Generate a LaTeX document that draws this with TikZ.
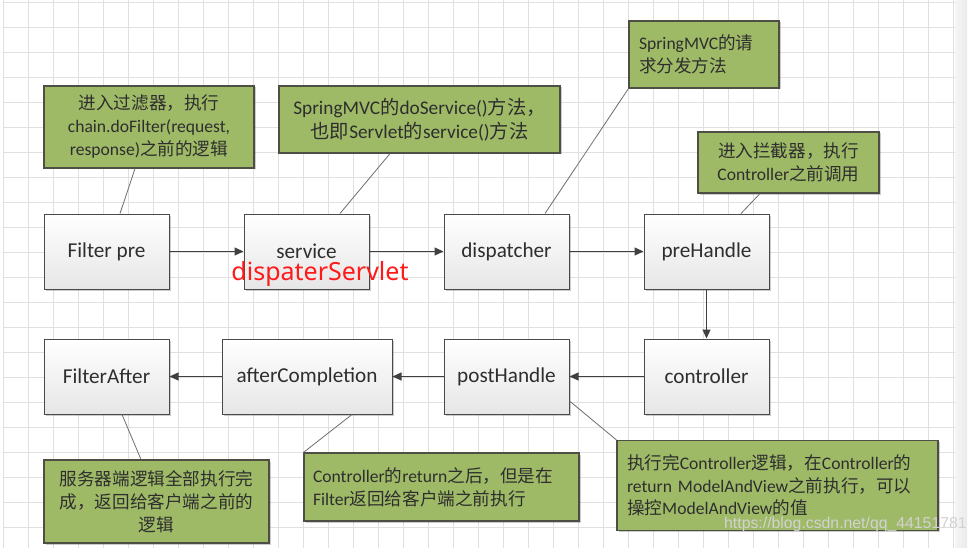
\documentclass[tikz,border=0pt]{standalone}
\usepackage{fontspec}
\setmainfont{Carlito}
\newfontfamily\cjk{Noto Sans CJK SC}
\newfontfamily\notosans{Noto Sans}
\newfontfamily\wmfont{Liberation Sans}
\usetikzlibrary{arrows.meta,shadows}
\definecolor{gridc}{HTML}{E0E0E0}
\definecolor{boxborder}{HTML}{4A4A4A}
\definecolor{boxbottom}{HTML}{E6E6E6}
\definecolor{textdark}{HTML}{2E2E2E}
\definecolor{notegreen}{HTML}{9FBA67}
\definecolor{noteborder}{HTML}{4E4E44}
\definecolor{arrowgray}{HTML}{404040}
\definecolor{linkgray}{HTML}{6E6E6E}
\definecolor{redlbl}{HTML}{FF1A1A}
\definecolor{wmc}{HTML}{D2D2D2}
\begin{document}
\begin{tikzpicture}[x=1pt,y=-1pt,
  box/.style={draw=boxborder, line width=1pt, top color=white, bottom color=boxbottom,
    minimum width=125pt, minimum height=75pt, inner sep=0pt,
    font=\fontsize{21.2}{24}\selectfont, text=textdark,
    drop shadow={shadow xshift=1.5pt, shadow yshift=-1.5pt, fill=black, opacity=0.2}},
  note/.style={draw=noteborder, line width=1.1pt, fill=notegreen, inner sep=0pt,
    font=\fontsize{17.6}{23}\selectfont, text=textdark,
    drop shadow={shadow xshift=1.5pt, shadow yshift=-1.5pt, fill=black, opacity=0.2}},
  flow/.style={draw=arrowgray, line width=1.1pt, -{Triangle[length=9pt,width=8pt]}},
  link/.style={draw=linkgray, line width=0.8pt},
  gridline/.style={draw=gridc, line width=1pt}]
\useasboundingbox (0,0) rectangle (976,548);
\fill[white] (0,0) rectangle (976,548);
% side strip
\shade[left color=black!4, right color=black!8] (955,0) rectangle (967,548);
% grid
\foreach \gx in {0,...,38} { \draw[gridline] ({3.5+25*\gx},0) -- ({3.5+25*\gx},548); }
\foreach \gy in {0,...,21} { \draw[gridline] (3.5,{2.5+25*\gy}) -- (955,{2.5+25*\gy}); }

% process boxes
\node[box] (fpre) at (106.5,251.5) {Filter pre};
\node[box] (serv) at (306.5,251.5) {service};
\node[box] (disp) at (506.5,251.5) {dispatcher};
\node[box] (preh) at (706.5,251.5) {preHandle};
\node[box] (fafter) at (106.5,376.5) {FilterAfter};
\node[box, minimum width=170pt] (afterc) at (307,376.5) {afterCompletion};
\node[box] (posth) at (506.5,376.5) {postHandle};
\node[box] (ctrl) at (706.5,376.5) {controller};

% flow arrows
\draw[flow] (fpre) -- (serv);
\draw[flow] (serv) -- (disp);
\draw[flow] (disp) -- (preh);
\draw[flow] (preh) -- (ctrl);
\draw[flow] (ctrl) -- (posth);
\draw[flow] (posth) -- (afterc);
\draw[flow] (afterc) -- (fafter);

% notes
\node[note, minimum width=210pt, minimum height=82pt, text width=200pt, align=center] (n1) at (149,127)
  {{\cjk 进入过滤器，执行}\\chain.doFilter(request,\\response){\cjk 之前的逻辑}};
\node[note, minimum width=281pt, minimum height=67pt, text width=270pt, align=center,
  font=\fontsize{19.3}{24}\selectfont] (n2) at (419.5,119.5)
  {SpringMVC{\cjk 的}doService(){\cjk 方法，}\\ {\cjk 也即}Servlet{\cjk 的}service(){\cjk 方法}};
\node[note, minimum width=150pt, minimum height=67pt, text width=130pt, align=left] (n3) at (704,54.5)
  {SpringMVC{\cjk 的请}\\{\cjk 求分发方法}};
\node[note, minimum width=181pt, minimum height=61pt, text width=170pt, align=center] (n4) at (788.5,162.5)
  {{\cjk 进入拦截器，执行}\\Controller{\cjk 之前调用}};
\node[note, minimum width=225pt, minimum height=83pt, text width=215pt, align=center] (n5) at (156.5,501.5)
  {{\cjk 服务器端逻辑全部执行完}\\{\cjk 成，返回给客户端之前的}\\{\cjk 逻辑}};
\node[note, minimum width=275pt, minimum height=68pt, text width=257pt, align=left] (n6) at (441.5,487)
  {Controller{\cjk 的}return{\cjk 之后，但是在}\\Filter{\cjk 返回给客户端之前执行}};
\node[note, minimum width=321pt, minimum height=90pt, text width=301pt, align=left,
  font=\fontsize{17.6}{22.5}\selectfont] (n7) at (777.5,485.5)
  {{\cjk 执行完}Controller{\cjk 逻辑，在}Controller{\cjk 的}\\return ModelAndView{\cjk 之前执行，可以}\\{\cjk 操控}ModelAndView{\cjk 的值}};

% note links
\draw[link] ([xshift=-14pt]n1.south) -- ([xshift=13.5pt]fpre.north);
\draw[link] ([xshift=-29.5pt]n2.south) -- ([xshift=33.5pt]serv.north);
\draw[link] (n3.south west) -- ([xshift=38.5pt]disp.north);
\draw[link] ([xshift=-28.5pt]n4.south) -- ([xshift=34.5pt]preh.north);
\draw[link] ([xshift=15.5pt]fafter.south) -- ([xshift=-15.5pt]n5.north);
\draw[link] ([xshift=45pt]afterc.south) -- (n6.north west);
\draw[link] ([yshift=-24.5pt]posth.east) -- (n7.north west);

% red label
\node[anchor=base, inner sep=0pt, text=redlbl, font=\notosans\fontsize{25}{28}\selectfont] (redl) at (320,280) {dispaterServlet};

% watermark
\node[anchor=base west, inner sep=0pt, text=wmc, font=\wmfont\fontsize{15.8}{18}\selectfont] (wm) at (724,528) {https://blog.csdn.net/qq\_44151781};
\end{tikzpicture}
\end{document}
